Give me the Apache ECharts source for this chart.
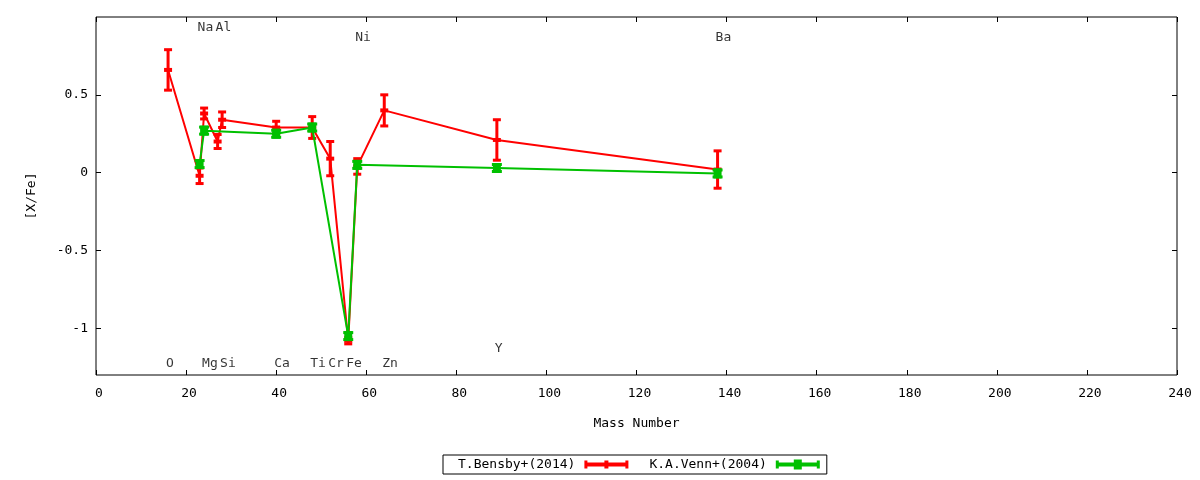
<!DOCTYPE html>
<html>
<head>
<meta charset="utf-8">
<script src="https://cdn.jsdelivr.net/npm/echarts@6/dist/echarts.min.js"></script>
<style>
html,body{margin:0;padding:0;background:#fff;}
#chart{width:1200px;height:480px;}
</style>
</head>
<body>
<div id="chart"></div>
<script>
// ---- data ----
const bensbyX   = [16, 23, 24, 27, 28, 40, 48, 52, 56, 58, 64, 89, 138];
const bensbyY   = [0.66, -0.02, 0.38, 0.20, 0.34, 0.29, 0.29, 0.09, -1.08, 0.04, 0.40, 0.21, 0.02];
const bensbyErr = [0.13, 0.05, 0.035, 0.045, 0.05, 0.04, 0.07, 0.11, 0.02, 0.05, 0.10, 0.13, 0.12];

const vennX = [23, 24, 40, 48, 56, 58, 89, 138];
const vennY = [0.055, 0.27, 0.25, 0.29, -1.05, 0.05, 0.03, -0.005];

const elementNames = ['O', 'Na', 'Mg', 'Al', 'Si', 'Ca', 'Ti', 'Cr', 'Fe', 'Ni', 'Zn', 'Y', 'Ba'];
const elementMass  = [16, 23, 24, 27, 28, 40, 48, 52, 56, 58, 64, 89, 138];
const elementLabelY = [-1.23, 0.93, -1.23, 0.93, -1.23, -1.23, -1.23, -1.23, -1.23, 0.865, -1.23, -1.13, 0.865];

const yTicks = [-1, -0.5, 0, 0.5];

const seriesNames = ['T.Bensby+(2014)', 'K.A.Venn+(2004)'];

// ---- styles ----
const RED = '#ff0000';
const GREEN = '#00c000';
const FONT = 'DejaVu Sans Mono';

const redIcon = 'path://M0 1H3V3H20V1H24V3H41V1H44V9H41V7H24V9H20V7H3V9H0Z';
const greenIcon = 'path://M0 1H3V3H18V0H26V3H41V1H44V9H41V7H26V10H18V7H3V9H0Z';

const bensbyData = bensbyX.map((x, i) => [x, bensbyY[i], bensbyErr[i]]);
const bensbyLine = bensbyX.map((x, i) => [x, bensbyY[i]]);
const vennData = vennX.map((x, i) => [x, vennY[i]]);
const labelData = elementMass.map((x, i) => [x, elementLabelY[i], elementNames[i]]);

const chart = echarts.init(document.getElementById('chart'));

const axisTickStyle = {show: true, inside: true, length: 5, lineStyle: {color: '#000', width: 1}};
const hiddenLine = {show: false, onZero: false};

chart.setOption({
  animation: false,
  backgroundColor: '#fff',
  textStyle: {fontFamily: FONT, color: '#000'},
  grid: {left: 96, right: 23, top: 17, bottom: 105, show: true, borderColor: '#000', borderWidth: 1, backgroundColor: 'transparent'},
  legend: {
    left: 443, top: 455, orient: 'horizontal', align: 'right',
    padding: [3, 7, 3, 15], itemGap: 21, itemWidth: 44, itemHeight: 10,
    borderColor: '#000', borderWidth: 1, borderRadius: 0,
    selectedMode: false,
    textStyle: {fontFamily: FONT, fontSize: 13, color: '#000', padding: [0, 4, 0, 0]},
    data: [{name: seriesNames[0], icon: redIcon}, {name: seriesNames[1], icon: greenIcon}]
  },
  xAxis: [{
    type: 'value', position: 'bottom', min: 0, max: 240, interval: 20,
    axisLine: hiddenLine, axisTick: axisTickStyle, splitLine: {show: false},
    axisLabel: {fontFamily: FONT, fontSize: 13, color: '#000', margin: 12, padding: [0, 0, 0, 6]},
    name: 'Mass Number', nameLocation: 'middle', nameGap: 42,
    nameTextStyle: {fontFamily: FONT, fontSize: 13, color: '#000'}
  }, {
    type: 'value', position: 'top', min: 0, max: 240, interval: 20,
    axisLine: hiddenLine, axisTick: axisTickStyle, splitLine: {show: false},
    axisLabel: {show: false}
  }],
  yAxis: [{
    type: 'value', position: 'left', min: -1.3, max: 1.0,
    axisLine: hiddenLine,
    axisTick: Object.assign({}, axisTickStyle, {customValues: yTicks}),
    splitLine: {show: false},
    axisLabel: {customValues: yTicks, fontFamily: FONT, fontSize: 13, color: '#000', margin: 8},
    name: '[X/Fe]', nameLocation: 'middle', nameGap: 58,
    nameTextStyle: {fontFamily: FONT, fontSize: 13, color: '#000'}
  }, {
    type: 'value', position: 'right', min: -1.3, max: 1.0,
    axisLine: hiddenLine,
    axisTick: Object.assign({}, axisTickStyle, {customValues: yTicks}),
    splitLine: {show: false},
    axisLabel: {show: false}
  }],
  series: [
    {
      name: seriesNames[0], type: 'custom', z: 3,
      itemStyle: {color: RED},
      data: bensbyData,
      renderItem: function (params, api) {
        const x = api.value(0), y = api.value(1), e = api.value(2);
        const c = api.coord([x, y]);
        const t = api.coord([x, y + e]);
        const b = api.coord([x, y - e]);
        const w = 8, h = 3;
        const cap = (py, hh) => ({type: 'rect', shape: {x: c[0] - w / 2, y: py - hh / 2, width: w, height: hh}, style: {fill: RED}});
        return {
          type: 'group',
          children: [
            {type: 'rect', shape: {x: c[0] - 1.5, y: t[1], width: 3, height: b[1] - t[1]}, style: {fill: RED}},
            cap(t[1], h), cap(c[1], 4), cap(b[1], h)
          ]
        };
      }
    },
    {
      name: seriesNames[0], type: 'line', z: 2,
      data: bensbyLine, showSymbol: false, symbol: 'none',
      lineStyle: {color: RED, width: 2}, itemStyle: {color: RED}
    },
    {
      name: seriesNames[1], type: 'custom', z: 5,
      itemStyle: {color: GREEN},
      data: vennData,
      renderItem: function (params, api) {
        const c = api.coord([api.value(0), api.value(1)]);
        return {
          type: 'group',
          children: [
            {type: 'rect', shape: {x: c[0] - 4, y: c[1] - 5, width: 8, height: 10}, style: {fill: GREEN}},
            {type: 'rect', shape: {x: c[0] - 5, y: c[1] - 5, width: 10, height: 3}, style: {fill: GREEN}},
            {type: 'rect', shape: {x: c[0] - 5, y: c[1] + 2, width: 10, height: 3}, style: {fill: GREEN}}
          ]
        };
      }
    },
    {
      name: seriesNames[1], type: 'line', z: 4,
      data: vennData, showSymbol: false, symbol: 'none',
      lineStyle: {color: GREEN, width: 2}, itemStyle: {color: GREEN}
    },
    {
      name: 'labels', type: 'scatter', z: 6,
      data: labelData, symbolSize: 1,
      itemStyle: {color: 'transparent'},
      silent: true,
      label: {
        show: true, position: 'inside', align: 'left', verticalAlign: 'middle', offset: [-2, 0],
        fontFamily: FONT, fontSize: 13, color: '#000',
        formatter: p => p.value[2]
      }
    }
  ]
});
</script>
</body>
</html>
